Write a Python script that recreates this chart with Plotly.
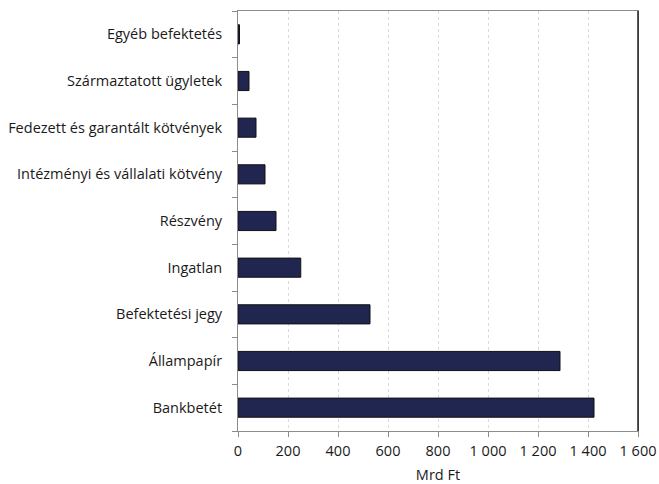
import plotly.graph_objects as go

categories = ["Bankbetét", "Állampapír", "Befektetési jegy", "Ingatlan", "Részvény",
              "Intézményi és vállalati kötvény", "Fedezett és garantált kötvények",
              "Származtatott ügyletek", "Egyéb befektetés"]
values = [1424, 1288, 528, 251, 152, 108, 72, 44, 6]
x_ticks = [0, 200, 400, 600, 800, 1000, 1200, 1400, 1600]
x_tick_labels = ["0", "200", "400", "600", "800", "1 000", "1 200", "1 400", "1 600"]

font_family = "'Open Sans', sans-serif"
fs = 14.5

fig = go.Figure(go.Bar(
    y=categories, x=values, orientation="h",
    marker=dict(color="#20264f", line=dict(color="#111111", width=1)),
))

fig.update_layout(
    width=659, height=484,
    margin=dict(l=238, r=21, t=11, b=53),
    paper_bgcolor="white", plot_bgcolor="white",
    bargap=0.59,
    showlegend=False,
    font=dict(family=font_family, size=fs, color="#1a1a1a"),
    xaxis=dict(
        range=[0, 1600], tickvals=x_ticks, ticktext=x_tick_labels,
        showgrid=True, gridcolor="#dadada", griddash="dot", gridwidth=1,
        showline=True, linecolor="#8c8c8c", linewidth=1, mirror=True,
        ticks="outside", ticklen=5, tickcolor="#8c8c8c",
        zeroline=False, automargin=False, ticklabelstandoff=2,
        title=dict(text="Mrd Ft", standoff=12, font=dict(size=fs)),
        tickfont=dict(size=fs),
    ),
    yaxis=dict(
        showline=True, linecolor="#8c8c8c", linewidth=1, mirror=True,
        ticks="outside", ticklen=5, tickcolor="#8c8c8c", tickson="boundaries",
        showgrid=False, ticklabelstandoff=12, automargin=False,
        tickfont=dict(size=fs),
    ),
    shapes=[dict(type="line", xref="paper", yref="paper", x0=1, x1=1, y0=0, y1=1,
                 line=dict(color="#222222", width=1.5))],
)

fig.write_html("out.html", config={"displayModeBar": False},
               post_script="document.body.style.margin='0';")
